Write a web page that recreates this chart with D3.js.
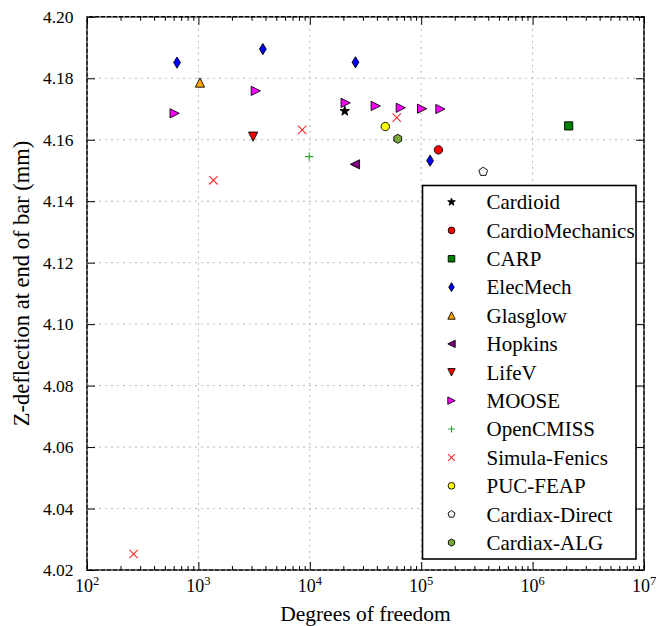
<!DOCTYPE html>
<html><head><meta charset="utf-8">
<script src="https://cdn.jsdelivr.net/npm/d3@7"></script>
<style>
html,body{margin:0;padding:0;background:#fff;}
svg{display:block;}
</style>
</head><body>
<div id="chart"></div>
<script>
// ---- data ----
const seriesNames = ["Cardioid","CardioMechanics","CARP","ElecMech","Glasglow","Hopkins","LifeV","MOOSE","OpenCMISS","Simula-Fenics","PUC-FEAP","Cardiax-Direct","Cardiax-ALG"];
const cardioidX = [20600];            const cardioidY = [4.1693];
const cardioMechanicsX = [142800];    const cardioMechanicsY = [4.1567];
const carpX = [2108000];              const carpY = [4.1645];
const elecMechX = [643, 3790, 25700, 120200];
const elecMechY = [4.1851, 4.1895, 4.1852, 4.1532];
const glasglowX = [1033];             const glasglowY = [4.1786];
const hopkinsX = [25450];             const hopkinsY = [4.1520];
const lifeVX = [3100];                const lifeVY = [4.1610];
const mooseX = [612, 3275, 20990, 39060, 65570, 101900, 148800];
const mooseY = [4.1686, 4.1759, 4.1720, 4.1710, 4.1704, 4.1701, 4.1700];
const openCmissX = [9880];            const openCmissY = [4.1545];
const simulaX = [262, 1364, 8545, 60340];
const simulaY = [4.0252, 4.1468, 4.1632, 4.1672];
const pucFeapX = [47640];             const pucFeapY = [4.1643];
const cardiaxDirectX = [360400];      const cardiaxDirectY = [4.1496];
const cardiaxAlgX = [61600];          const cardiaxAlgY = [4.1603];
const xMajorTicks = [1e2, 1e3, 1e4, 1e5, 1e6, 1e7];
const xTickExponents = ["2","3","4","5","6","7"];
const yTicks = [4.02, 4.04, 4.06, 4.08, 4.10, 4.12, 4.14, 4.16, 4.18, 4.20];
const yTickLabels = ["4.02","4.04","4.06","4.08","4.10","4.12","4.14","4.16","4.18","4.20"];

// ---- styles ----
const markerTypes = ["star","circle","square","thin_diamond","tri_up","tri_left","tri_down","tri_right","plus","x","circle","pentagon","hexagon"];
const markerColors = ["#000000","#ff0000","#008000","#0000ff","#ffa500","#800080","#ff0000","#ff00ff","#2ca02c","#ff2a2a","#ffff00","#f4f4f4","#7ba83c"];
const FONT = "'Liberation Serif', Tinos, 'Times New Roman', serif";

const seriesXs = [cardioidX,cardioMechanicsX,carpX,elecMechX,glasglowX,hopkinsX,lifeVX,mooseX,openCmissX,simulaX,pucFeapX,cardiaxDirectX,cardiaxAlgX];
const seriesYs = [cardioidY,cardioMechanicsY,carpY,elecMechY,glasglowY,hopkinsY,lifeVY,mooseY,openCmissY,simulaY,pucFeapY,cardiaxDirectY,cardiaxAlgY];

const W = 658, H = 626;
const L = 87, R = 644, T = 16.8, B = 570;

const svg = d3.select("#chart").append("svg").attr("width", W).attr("height", H)
  .attr("font-family", FONT).style("font-family", FONT);
const x = d3.scaleLog().domain([1e2, 1e7]).range([L, R]);
const y = d3.scaleLinear().domain([4.02, 4.20]).range([B, T]);

function poly(pts){ return "M" + pts.map(p => p[0].toFixed(2)+","+p[1].toFixed(2)).join("L") + "Z"; }
function markerPath(type, k){
  let r;
  switch(type){
    case "circle": r = 4.2*k; return `M${r},0A${r},${r} 0 1,1 ${-r},0A${r},${r} 0 1,1 ${r},0Z`;
    case "square": r = 4.1*k; return poly([[-r,-r],[r,-r],[r,r],[-r,r]]);
    case "thin_diamond": { const w = 3.4*k, h = 5.6*k; return poly([[0,-h],[w,0],[0,h],[-w,0]]); }
    case "tri_up": r = 4.6*k; return poly([[0,-r],[-r,r],[r,r]]);
    case "tri_down": r = 4.6*k; return poly([[0,r],[-r,-r],[r,-r]]);
    case "tri_left": r = 4.6*k; return poly([[-r,0],[r,-r],[r,r]]);
    case "tri_right": r = 4.6*k; return poly([[r,0],[-r,-r],[-r,r]]);
    case "star": { const ro = 5*k, ri = ro*0.4; const pts = [];
      for (let i=0;i<10;i++){ const a = -Math.PI/2 + i*Math.PI/5; const rr = i%2 ? ri : ro; pts.push([rr*Math.cos(a), rr*Math.sin(a)]); }
      return poly(pts); }
    case "pentagon": { r = 4.6*k; const pts=[]; for(let i=0;i<5;i++){ const a=-Math.PI/2+i*2*Math.PI/5; pts.push([r*Math.cos(a), r*Math.sin(a)]);} return poly(pts); }
    case "hexagon": { r = 4.5*k; const pts=[]; for(let i=0;i<6;i++){ const a=-Math.PI/2+i*Math.PI/3; pts.push([r*Math.cos(a), r*Math.sin(a)]);} return poly(pts); }
    case "plus": r = 4.2*k; return `M${-r},0H${r}M0,${-r}V${r}`;
    case "x": r = 4.2*k; return `M${-r},${-r}L${r},${r}M${r},${-r}L${-r},${r}`;
  }
}
function styleMarker(sel, i){
  const t = markerTypes[i];
  if (t === "plus" || t === "x"){
    sel.attr("fill","none").attr("stroke", markerColors[i]).attr("stroke-width", 1.1);
  } else {
    sel.attr("fill", markerColors[i]).attr("stroke","#000").attr("stroke-width", 0.9);
  }
}

// ---- frame ----
svg.append("rect").attr("x", L).attr("y", T).attr("width", R-L).attr("height", B-T)
  .attr("fill","#fff").attr("stroke","#000").attr("stroke-width",1.6);

// ---- grid ----
const grid = svg.append("g");
xMajorTicks.forEach(v => grid.append("line").attr("x1", x(v)).attr("x2", x(v)).attr("y1", T).attr("y2", B)
  .attr("stroke","#b8b8b8").attr("stroke-width",1).attr("stroke-dasharray","2,4"));
yTicks.forEach(v => grid.append("line").attr("y1", y(v)).attr("y2", y(v)).attr("x1", L).attr("x2", R)
  .attr("stroke","#b8b8b8").attr("stroke-width",1).attr("stroke-dasharray","2,4"));

// ---- axes ticks (inward, on all sides) ----
const minorX = x.ticks().filter(v => !xMajorTicks.some(m => Math.abs(m - v)/m < 1e-9));
function tickAxis(axisFn, scale, vals, size, tx, ty){
  const g = svg.append("g").attr("transform", `translate(${tx},${ty})`)
    .call(axisFn(scale).tickValues(vals).tickSizeInner(size).tickSizeOuter(0).tickFormat(""));
  g.select(".domain").remove();
  g.selectAll("line").attr("stroke","#000").attr("stroke-width",1);
  g.selectAll("text").remove();
  return g;
}
tickAxis(d3.axisBottom, x, xMajorTicks, -8, 0, B);
tickAxis(d3.axisBottom, x, minorX, -4, 0, B);
tickAxis(d3.axisTop, x, xMajorTicks, -8, 0, T);
tickAxis(d3.axisTop, x, minorX, -4, 0, T);
tickAxis(d3.axisLeft, y, yTicks, -8, L, 0);
tickAxis(d3.axisRight, y, yTicks, -8, R, 0);

// ---- tick labels ----
const xl = svg.append("g");
xMajorTicks.forEach((v,i) => {
  const t = xl.append("text").attr("x", x(v)).attr("y", 592).attr("text-anchor","middle")
    .style("font-family", FONT).style("font-size","18px");
  t.append("tspan").text("10");
  t.append("tspan").attr("dy", -7).style("font-size","12.5px").text(xTickExponents[i]);
});
const yl = svg.append("g");
yTicks.forEach((v,i) => {
  yl.append("text").attr("x", 73.5).attr("y", y(v)).attr("dy","0.35em").attr("text-anchor","end")
    .style("font-family", FONT).style("font-size","17.5px").text(yTickLabels[i]);
});

// ---- axis titles ----
svg.append("text").attr("x", (L+R)/2).attr("y", 620.5).attr("text-anchor","middle")
  .style("font-family", FONT).style("font-size","21.5px").text("Degrees of freedom");
svg.append("text").attr("transform", `translate(28.5,${(T+B)/2-10}) rotate(-90)`).attr("text-anchor","middle")
  .style("font-family", FONT).style("font-size","22.5px").text("Z-deflection at end of bar (mm)");

// ---- points ----
const pts = svg.append("g");
seriesNames.forEach((name, i) => {
  const data = seriesXs[i].map((xv, j) => [xv, seriesYs[i][j]]);
  pts.selectAll(null).data(data).enter().append("path")
    .attr("transform", d => `translate(${x(d[0])},${y(d[1])})`)
    .attr("d", markerPath(markerTypes[i], 1))
    .call(styleMarker, i);
});

// ---- legend ----
const lg = svg.append("g");
lg.append("rect").attr("x", 422.5).attr("y", 185.5).attr("width", 636-422.5).attr("height", 559-185.5)
  .attr("fill","#fff").attr("stroke","#000").attr("stroke-width",1.6);
seriesNames.forEach((name, i) => {
  const cy = 202 + i*28.38;
  lg.append("path").attr("transform", `translate(451.5,${cy})`).attr("d", markerPath(markerTypes[i], 0.8)).call(styleMarker, i);
  lg.append("text").attr("x", 486.5).attr("y", cy).attr("dy","0.35em")
    .style("font-family", FONT).style("font-size","21px").text(name);
});
</script>
</body></html>
